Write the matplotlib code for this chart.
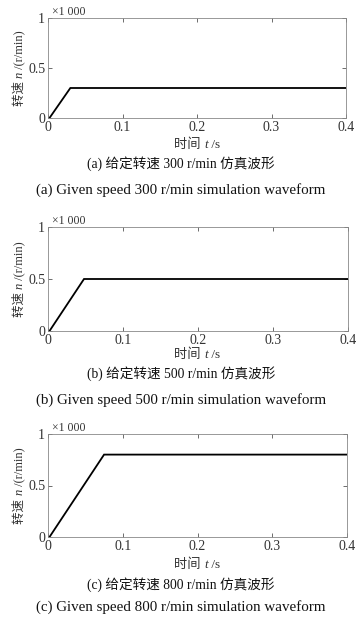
import matplotlib
matplotlib.use("Agg")
import matplotlib.pyplot as plt
from matplotlib.font_manager import FontProperties

# ---- data (speed in units of 1000 r/min) ----
t_a = [0.0, 0.002, 0.030, 0.4]
n_a = [0.0, 0.0, 0.30, 0.30]
t_b = [0.0, 0.002, 0.048, 0.4]
n_b = [0.0, 0.0, 0.50, 0.50]
t_c = [0.0, 0.002, 0.075, 0.4]
n_c = [0.0, 0.0, 0.80, 0.80]
xticks = [0, 0.1, 0.2, 0.3, 0.4]
xtick_labels = ["0", "0.1", "0.2", "0.3", "0.4"]
yticks = [0, 0.5, 1]
ytick_labels = ["0", "0.5", "1"]
captions_cn = ["(a) 给定转速 300 r/min 仿真波形",
               "(b) 给定转速 500 r/min 仿真波形",
               "(c) 给定转速 800 r/min 仿真波形"]
captions_en = ["(a) Given speed 300 r/min simulation waveform",
               "(b) Given speed 500 r/min simulation waveform",
               "(c) Given speed 800 r/min simulation waveform"]

FAM = ["Liberation Serif", "Noto Sans CJK SC", "DejaVu Sans"]
plt.rcParams["font.family"] = FAM

W, H = 362, 618
fig = plt.figure(figsize=(W / 100, H / 100), dpi=100)
fig.patch.set_facecolor("white")

# axes boxes in pixels: left, top, right, bottom
boxes = [(48, 18, 346, 118), (48, 227, 348, 331), (48, 434, 347, 537)]
series = [(t_a, n_a), (t_b, n_b), (t_c, n_c)]
xlabel_y = [144, 354, 564]
cap1_y = [164, 374, 585]
cap2_y = [190, 400, 607]

fp_xr = FontProperties(family=FAM, size=9.5)
fp_xi = FontProperties(family=FAM, size=9.5, style="italic")
fp_yr = FontProperties(family=FAM, size=9)
fp_yi = FontProperties(family=FAM, size=9, style="italic")

fig.canvas.draw()
renderer = fig.canvas.get_renderer()


def hpieces(pieces, xc, yc):
    objs, lens = [], []
    for s, fp in pieces:
        t = fig.text(0, 0, s, fontproperties=fp, ha="left", va="baseline",
                     color="#333333")
        lens.append(t.get_window_extent(renderer).width)
        objs.append(t)
    pos = xc - sum(lens) / 2
    for t, L in zip(objs, lens):
        t.set_position((pos / W, 1 - (yc + 4) / H))
        pos += L


def vpieces(pieces, xb, yc):
    objs, lens = [], []
    for s, fp in pieces:
        t = fig.text(0, 0, s, fontproperties=fp, rotation=90,
                     rotation_mode="anchor", ha="left", va="baseline",
                     color="#333333")
        lens.append(t.get_window_extent(renderer).height)
        objs.append(t)
    start = yc + sum(lens) / 2
    for t, L in zip(objs, lens):
        t.set_position((xb / W, 1 - start / H))
        start -= L


for i, ((l, tp, r, b), (tt, nn)) in enumerate(zip(boxes, series)):
    ax = fig.add_axes([l / W, 1 - b / H, (r - l) / W, (b - tp) / H])
    ax.plot(tt, nn, color="black", lw=1.3, solid_joinstyle="miter")
    ax.set_xlim(0, 0.4)
    ax.set_ylim(0, 1)
    ax.set_xticks(xticks)
    ax.set_xticklabels(xtick_labels)
    ax.set_yticks(yticks)
    ax.set_yticklabels(ytick_labels)
    ax.tick_params(direction="in", length=3, width=0.6, color="#555555",
                   top=True, right=True, labelsize=10, pad=2,
                   labelcolor="#333333")
    for s in ax.spines.values():
        s.set_linewidth(0.6)
        s.set_color("#888888")
    ax.text(0.012, 1.0, "×1 000", transform=ax.transAxes, fontsize=8.5,
            ha="left", va="bottom", color="#333333")
    hpieces([("时间 ", fp_xr), ("t", fp_xi), (" /s", fp_xr)], 197, xlabel_y[i])
    vpieces([("转速 ", fp_yr), ("n", fp_yi), (" /(r/min)", fp_yr)], 23,
            (tp + b) / 2)
    fig.text(0.5, 1 - cap1_y[i] / H, captions_cn[i], ha="center",
             va="center", fontsize=9.8, color="#111111")
    fig.text(0.5, 1 - cap2_y[i] / H, captions_en[i], ha="center",
             va="center", fontsize=10.8, color="#111111")

fig.savefig("out.png", dpi=100, facecolor="white")
